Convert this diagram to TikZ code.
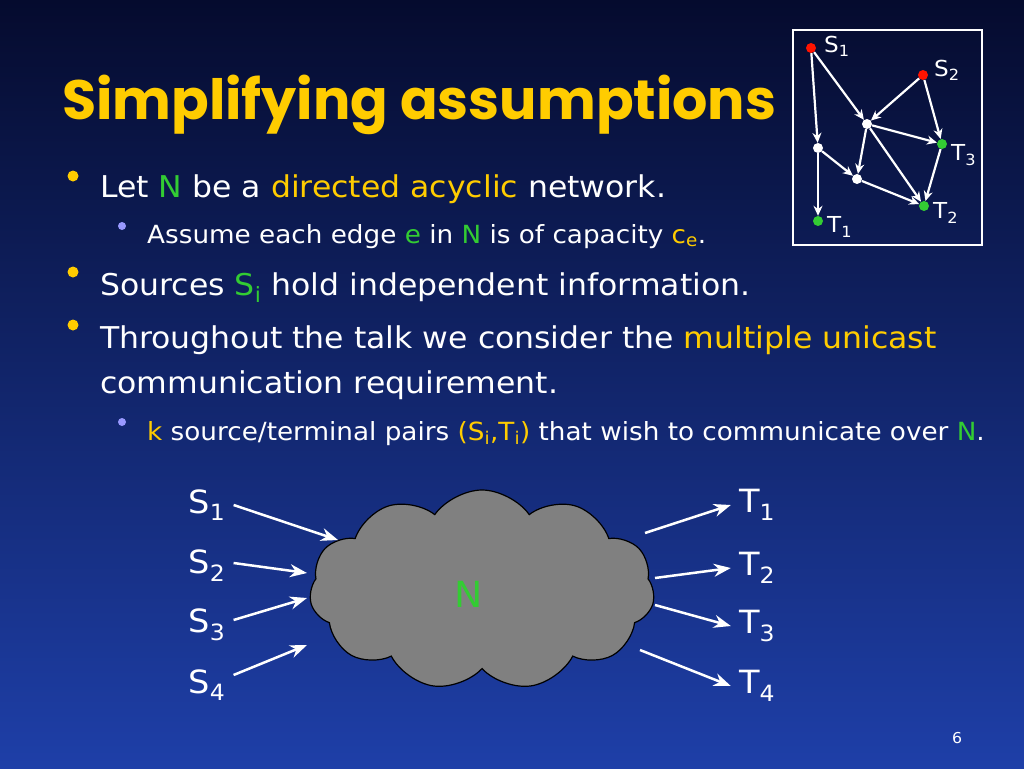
\documentclass[tikz,border=0pt]{standalone}
\usepackage{fontspec}
\setmainfont{DejaVu Sans}[FakeStretch=1.05]
\newfontfamily\titlefont{Poppins}
\usetikzlibrary{shapes.symbols,arrows.meta}
\definecolor{ylw}{HTML}{FFCC00}
\definecolor{grn}{HTML}{33CC33}
\definecolor{lav}{HTML}{9999FF}
\definecolor{bgtop}{HTML}{050B2E}
\definecolor{bgbot}{HTML}{1E3FA8}
\definecolor{cloudg}{HTML}{808080}
\begin{document}
\begin{tikzpicture}[x=1pt,y=-1pt,
  txt/.style={anchor=base west,text=white,inner sep=0pt,font=\fontsize{30}{32}\selectfont},
  stxt/.style={anchor=base west,text=white,inner sep=0pt,font=\fontsize{25}{26}\selectfont},
  bul/.style={circle,fill=ylw,inner sep=0pt,minimum size=11pt},
  sbul/.style={circle,fill=lav,inner sep=0pt,minimum size=8pt},
  gv/.style={circle,draw=none,inner sep=0pt,minimum size=10pt},
  ge/.style={white,line width=2.2pt,-{Stealth[length=10pt,width=9pt]}},
  glab/.style={text=white,inner sep=0pt,font=\fontsize{22}{24}\selectfont},
  big/.style={text=white,inner sep=0pt,font=\fontsize{32}{34}\selectfont},
  arr/.style={white,line width=2.5pt,-{Stealth[length=17pt,width=13pt]}}]
\shade[top color=bgtop,bottom color=bgbot] (0,0) rectangle (1024,768);
\useasboundingbox (0,0) rectangle (1024,768);
% title
\node[anchor=base west,text=ylw,inner sep=0pt,font=\titlefont\bfseries\fontsize{55.5}{58}\selectfont] (title) at (62,119) {Simplifying assumptions};
% bullets
\node[bul] (b1) at (73,176) {};
\node[txt] (t1) at (100,197) {Let \textcolor{grn}{N} be a \textcolor{ylw}{directed acyclic} network.};
\node[sbul] (b1a) at (122,226) {};
\node[stxt] (t1a) at (147,243) {Assume each edge \textcolor{grn}{e} in \textcolor{grn}{N} is of capacity \textcolor{ylw}{c\textsubscript{e}}.};
\node[bul] (b2) at (73,272) {};
\node[txt] (t2) at (100,295) {Sources \textcolor{grn}{S\textsubscript{i}} hold independent information.};
\node[bul] (b3) at (73,325) {};
\node[txt] (t3) at (100,348) {Throughout the talk we consider the \textcolor{ylw}{multiple unicast}};
\node[txt] (t3b) at (100,393) {communication requirement.};
\node[sbul] (b3a) at (122,422) {};
\node[stxt] (t3a) at (147,440) {\textcolor{ylw}{k} source/terminal pairs \textcolor{ylw}{(S\textsubscript{i},T\textsubscript{i})} that wish to communicate over \textcolor{grn}{N}.};
% small graph
\draw[white,line width=2pt] (793,30) rectangle (982,245);
\node[gv,fill=red!85!orange] (s1) at (811,48) {};
\node[gv,fill=red!85!orange] (s2) at (923,75) {};
\node[gv,fill=white] (a) at (867,124) {};
\node[gv,fill=white] (b) at (818,148) {};
\node[gv,fill=white] (c) at (857,179) {};
\node[gv,fill=grn] (t3n) at (942,144) {};
\node[gv,fill=grn] (t2n) at (924,206) {};
\node[gv,fill=grn] (t1n) at (818,221) {};
\node[glab,anchor=west] (ls1) at (824,46) {S\textsubscript{1}};
\node[glab,anchor=west] (ls2) at (934,70) {S\textsubscript{2}};
\node[glab,anchor=west] (lt3) at (951,155) {T\textsubscript{3}};
\node[glab,anchor=west] (lt2) at (933,213) {T\textsubscript{2}};
\node[glab,anchor=west] (lt1) at (827,227) {T\textsubscript{1}};
\draw[ge] (s1) -- (b);
\draw[ge] (s1) -- (a);
\draw[ge] (s2) -- (a);
\draw[ge] (s2) -- (t3n);
\draw[ge] (a) -- (t3n);
\draw[ge] (a) -- (c);
\draw[ge] (a) -- (t2n);
\draw[ge] (b) -- (t1n);
\draw[ge] (b) -- (c);
\draw[ge] (c) -- (t2n);
\draw[ge] (t3n) -- (t2n);
% cloud
\node[cloud,cloud puffs=11,cloud puff arc=110,aspect=1.7,draw=black,line width=1.2pt,fill=cloudg,minimum width=345pt,minimum height=200pt] (cl) at (482,590) {};
\node[text=grn,font=\fontsize{36}{38}\selectfont] (nn) at (469,594) {N};
% S/T labels
\node[big] (S1) at (207,505) {S\textsubscript{1}};
\node[big] (S2) at (207,566) {S\textsubscript{2}};
\node[big] (S3) at (207,625) {S\textsubscript{3}};
\node[big] (S4) at (207,685) {S\textsubscript{4}};
\node[big] (T1) at (757,505) {T\textsubscript{1}};
\node[big] (T2) at (757,568) {T\textsubscript{2}};
\node[big] (T3) at (757,626) {T\textsubscript{3}};
\node[big] (T4) at (757,686) {T\textsubscript{4}};
\coordinate (ci1) at (338,540);
\coordinate (ci2) at (307,573);
\coordinate (ci3) at (307,598);
\coordinate (ci4) at (307,645);
\coordinate (co1) at (645,533);
\coordinate (co2) at (655,578);
\coordinate (co3) at (655,605);
\coordinate (co4) at (640,650);
\draw[arr] (S1.east) ++(8,0) -- (ci1);
\draw[arr] (S2.east) ++(8,-3) -- (ci2);
\draw[arr] (S3.east) ++(8,-5) -- (ci3);
\draw[arr] (S4.east) ++(8,-10) -- (ci4);
\draw[arr] (co1) -- ([xshift=-8pt]T1.west);
\draw[arr] (co2) -- ([xshift=-8pt]T2.west);
\draw[arr] (co3) -- ([xshift=-8pt]T3.west);
\draw[arr] (co4) -- ([xshift=-8pt]T4.west);
\node[text=white,font=\fontsize{15}{17}\selectfont] (pg) at (957,738) {6};
\end{tikzpicture}
\end{document}
